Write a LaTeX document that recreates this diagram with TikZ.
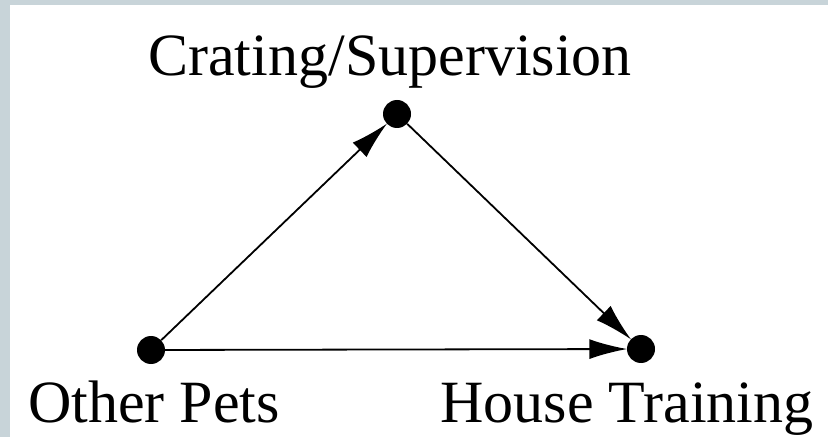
\documentclass[tikz,border=0pt]{standalone}
\usepackage{fontspec}
\setmainfont{Liberation Serif}
\usetikzlibrary{arrows.meta}
\definecolor{frame}{RGB}{200,212,217}
\begin{document}
\begin{tikzpicture}[x=1pt,y=1pt,
  dot/.style={circle,fill=black,inner sep=0pt,minimum size=28pt},
  lbl/.style={anchor=base,inner sep=0pt,font=\fontsize{60}{72}\selectfont},
  edge/.style={line width=1.8pt,-{Latex[length=38pt,width=20pt]},shorten >=-0.5pt}]
\useasboundingbox (0,0) rectangle (828,437);
\fill[frame] (0,0) rectangle (828,437);
\fill[white] (10,0) rectangle (828,432);
\node[dot] (cs) at (397,323) {};
\node[dot] (op) at (151,87) {};
\node[dot] (ht) at (641,88) {};
\node[lbl] (lcs) at (390,361) {Crating/Supervision};
\node[lbl] (lop) at (154,15) {Other Pets};
\node[lbl] (lht) at (627,15) {House Training};
\draw[edge] (op) -- (cs);
\draw[edge] (cs) -- (ht);
\draw[edge] (op) -- (ht);
\end{tikzpicture}
\end{document}
